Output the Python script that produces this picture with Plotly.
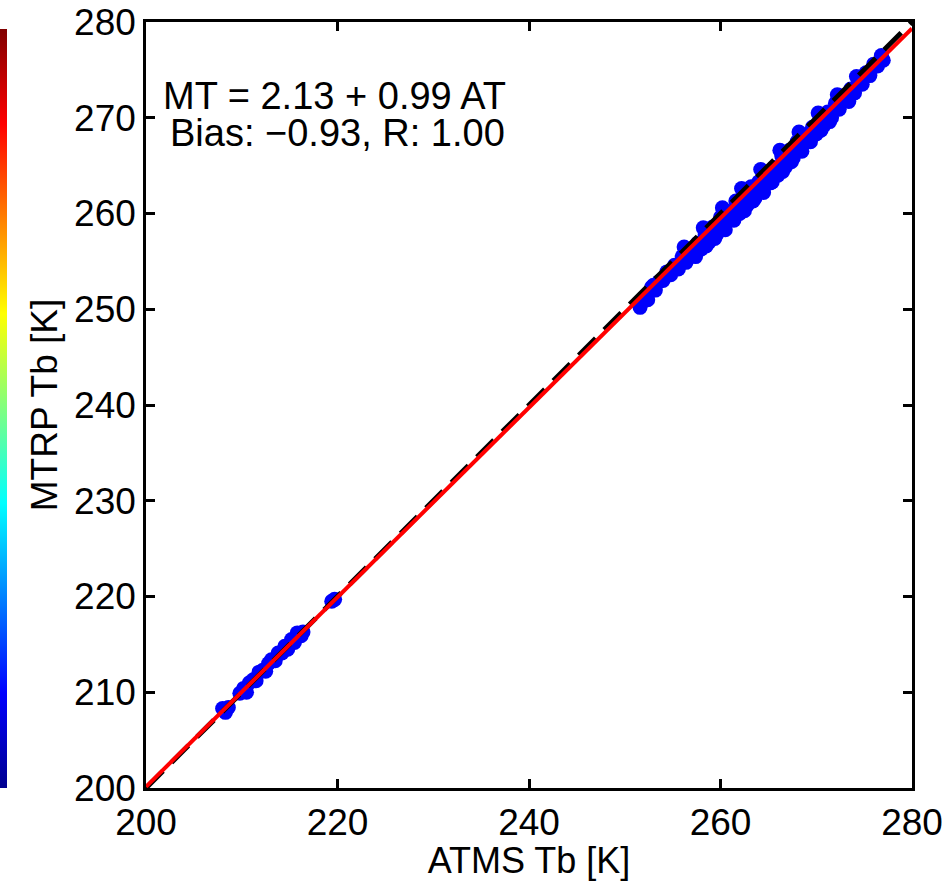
import plotly.graph_objects as go

# ---- data ----
atms_low = [208.0, 208.3, 208.6, 209.8, 210.2, 210.5, 210.8, 211.2, 211.5, 211.8,
            212.2, 212.5, 212.8, 213.1, 213.5, 213.8, 214.2, 214.5, 214.8, 215.2,
            215.5, 215.8, 216.2, 216.4, 219.4, 219.7]
mtrp_low = [208.3, 207.9, 208.4, 209.9, 210.4, 210.0, 211.0, 211.3, 211.2, 212.1,
            212.3, 212.2, 213.0, 213.4, 213.3, 214.1, 214.1, 214.8, 214.5, 215.5,
            215.2, 216.2, 215.9, 216.3, 219.5, 219.7]

atms_high = [251.6, 252.0, 252.4, 252.8, 253.2, 253.6, 254.0, 254.4, 254.8, 255.2,
             255.6, 256.0, 256.4, 256.8, 257.2, 257.6, 258.0, 258.4, 258.8, 259.2,
             259.6, 260.0, 260.4, 260.8, 261.2, 261.6, 262.0, 262.4, 262.8, 263.2,
             263.6, 264.0, 264.4, 264.8, 265.2, 265.6, 266.0, 266.4, 266.8, 267.2,
             267.6, 268.0, 268.4, 268.8, 269.2, 269.6, 270.0, 270.4, 270.8, 271.2,
             271.6, 272.0, 272.4, 272.8, 273.2, 273.6, 274.0, 274.4, 274.8, 275.2,
             275.6, 276.0, 276.4, 276.8, 277.0,
             253.0, 255.0, 257.0, 259.0, 261.0, 263.0, 265.0, 267.0, 269.0, 271.0,
             273.0, 275.0, 258.5, 260.5, 262.5, 264.5, 266.5, 268.5, 270.5,
             257.4, 259.4, 261.4, 263.4, 265.4, 267.4, 269.4, 271.4, 273.4,
             256.2, 258.2, 260.2, 262.2, 264.2, 266.2, 268.2, 270.2, 272.2, 274.2]
mtrp_high = [250.2, 251.2, 251.0, 252.3, 252.0, 252.9, 253.0, 253.9, 253.6, 254.6,
             254.2, 255.5, 254.9, 256.2, 255.6, 256.9, 256.3, 257.8, 257.0, 258.6,
             257.8, 259.6, 258.6, 260.2, 259.4, 261.3, 260.0, 261.8, 260.9, 262.8,
             261.6, 263.3, 262.4, 264.3, 263.2, 264.8, 264.0, 266.0, 264.9, 266.6,
             265.8, 267.5, 266.6, 268.2, 267.5, 269.0, 268.3, 269.8, 269.2, 270.6,
             270.0, 271.5, 270.9, 272.3, 271.8, 273.0, 272.6, 273.9, 273.5, 274.7,
             274.4, 275.6, 275.4, 276.5, 276.0,
             252.5, 254.1, 256.0, 258.0, 260.0, 262.0, 264.0, 266.0, 268.0, 270.0,
             272.1, 274.2, 256.6, 258.3, 260.3, 262.2, 264.4, 266.5, 268.7,
             255.5, 257.4, 259.3, 261.3, 263.3, 265.4, 267.5, 269.6, 271.7,
             256.5, 258.5, 260.6, 262.6, 264.6, 266.6, 268.5, 270.5, 272.4, 274.3]

density_low = [0.12] * len(atms_low)
density_high = [0.12] * len(atms_high)

fit_intercept = 2.13
fit_slope = 0.99
line_x = [200, 280]

x_ticks = [200, 220, 240, 260, 280]
y_ticks = [200, 210, 220, 230, 240, 250, 260, 270, 280]

stats_line1 = "MT = 2.13 + 0.99 AT"
stats_line2 = "Bias: \u22120.93, R: 1.00"

FONT = "Liberation Sans, Arial, Helvetica, sans-serif"
jet = [[0.0, "#00008F"], [0.125, "#0000FF"], [0.375, "#00FFFF"],
       [0.625, "#FFFF00"], [0.875, "#FF0000"], [1.0, "#800000"]]

L, R, T, B = 146, 39, 22, 93
PW = 951 - L - R

fig = go.Figure()

fig.add_trace(go.Scatter(
    x=atms_low + atms_high, y=mtrp_low + mtrp_high, mode="markers",
    marker=dict(size=15, color=density_low + density_high, colorscale=jet,
                cmin=0, cmax=1, line=dict(width=0), showscale=True,
                colorbar=dict(x=(7 - L) / PW, xanchor="right", xref="paper",
                              y=0, yanchor="bottom", len=(788 - 29) / PW,
                              lenmode="fraction", thickness=40, xpad=0, ypad=0,
                              outlinewidth=0, showticklabels=False, ticks="")),
    showlegend=False, hoverinfo="skip"))

fig.add_trace(go.Scatter(
    x=line_x, y=line_x, mode="lines",
    line=dict(color="black", width=5, dash="24px,12px"),
    showlegend=False, hoverinfo="skip"))

fig.add_trace(go.Scatter(
    x=line_x, y=[fit_intercept + fit_slope * v for v in line_x], mode="lines",
    line=dict(color="#FF0000", width=4),
    showlegend=False, hoverinfo="skip"))

axis_common = dict(
    showgrid=False, zeroline=False, showline=True, linecolor="black", linewidth=2.5,
    mirror="ticks", ticks="inside", ticklen=9, tickwidth=2.5, tickcolor="black",
    tickfont=dict(family=FONT, size=37, color="black"), automargin=False,
)

fig.update_xaxes(range=[200, 280], tickvals=x_ticks,
                 title=dict(text="ATMS Tb [K]", font=dict(family=FONT, size=36, color="black"),
                            standoff=4),
                 **axis_common)
fig.update_yaxes(range=[200, 280], tickvals=y_ticks,
                 title=dict(text="MTRP Tb [K]", font=dict(family=FONT, size=37, color="black"),
                            standoff=6),
                 ticklabelstandoff=0,
                 **axis_common)

for txt, cx, cy in [(stats_line1, 334, 96), (stats_line2, 337, 133)]:
    fig.add_annotation(
        x=(cx - L) / PW, y=1 - (cy - T) / PW, xref="x domain", yref="y domain",
        xanchor="center", yanchor="middle", showarrow=False, text=txt,
        font=dict(family=FONT, size=38, color="black"),
    )

fig.update_layout(
    width=951, height=881,
    margin=dict(l=L, r=R, t=T, b=B, pad=0, autoexpand=False),
    paper_bgcolor="white", plot_bgcolor="white",
    font=dict(family=FONT, color="black"),
)

fig.write_html("out.html", config={"displayModeBar": False},
               post_script="document.body.style.margin='0px';")
